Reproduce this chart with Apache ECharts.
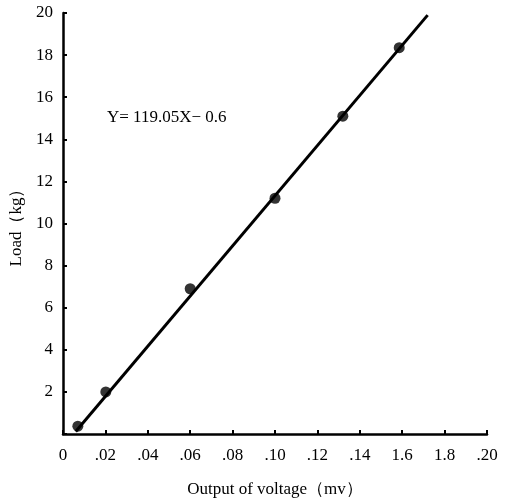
<!DOCTYPE html>
<html>
<head>
<meta charset="utf-8">
<script src="https://cdn.jsdelivr.net/npm/echarts@6/dist/echarts.min.js"></script>
<style>
  html, body { margin: 0; padding: 0; background: #fff; }
  #chart { width: 506px; height: 503px; }
</style>
</head>
<body>
<div id="chart"></div>
<script>
// measured points (output mv, load kg)
var points = [[0.007, 0.37], [0.0202, 2.0], [0.060, 6.9], [0.100, 11.2], [0.132, 15.1], [0.1586, 18.35]];
// fitted line ends
var fitLine = [[0.006, 0.12], [0.172, 19.9]];
// tick labels as printed on the original
var xTickLabels = ['0', '.02', '.04', '.06', '.08', '.10', '.12', '.14', '1.6', '1.8', '.20'];
var yTickLabels = ['', '2', '4', '6', '8', '10', '12', '14', '16', '18', '20'];
var equationText = 'Y= 119.05X\u2212 0.6';

var serif = '"Liberation Serif", "DejaVu Serif", serif';
var myChart = echarts.init(document.getElementById('chart'));
var option = {
  animation: false,
  grid: { left: 62, right: 19, top: 13, bottom: 64 },
  xAxis: {
    type: 'value',
    min: 0, max: 0.2, interval: 0.02,
    name: 'Output of voltage\uff08mv\uff09',
    nameLocation: 'middle',
    nameGap: 47,
    nameTextStyle: { color: '#000', fontSize: 17, fontFamily: serif },
    axisLine: { show: true, lineStyle: { color: '#000', width: 2.5 } },
    axisTick: { show: true, inside: true, length: 4, lineStyle: { color: '#000', width: 2 } },
    axisLabel: {
      color: '#000', fontSize: 17, fontFamily: serif, margin: 13,
      formatter: function (v) { return xTickLabels[Math.round(v / 0.02)]; }
    },
    splitLine: { show: false }
  },
  yAxis: {
    type: 'value',
    min: 0, max: 20, interval: 2,
    name: 'Load\uff08kg\uff09',
    nameLocation: 'middle',
    nameGap: 38,
    nameRotate: 90,
    nameTextStyle: { color: '#000', fontSize: 17, fontFamily: serif },
    axisLine: { show: true, lineStyle: { color: '#000', width: 2.5 } },
    axisTick: { show: true, inside: true, length: 4, lineStyle: { color: '#000', width: 2 } },
    axisLabel: {
      color: '#000', fontSize: 17, fontFamily: serif, margin: 10,
      formatter: function (v) { return yTickLabels[Math.round(v / 2)]; }
    },
    splitLine: { show: false }
  },
  graphic: [{
    type: 'text', left: 107, top: 109,
    style: { text: equationText, fill: '#000', fontSize: 17, fontFamily: serif }
  }],
  series: [
    {
      type: 'line', data: fitLine, showSymbol: false, symbol: 'none',
      lineStyle: { color: '#000', width: 3 }, z: 2
    },
    {
      type: 'scatter', data: points, symbol: 'circle', symbolSize: 11,
      itemStyle: { color: '#000' }, z: 3
    }
  ]
};
option && myChart.setOption(option);
</script>
</body>
</html>
